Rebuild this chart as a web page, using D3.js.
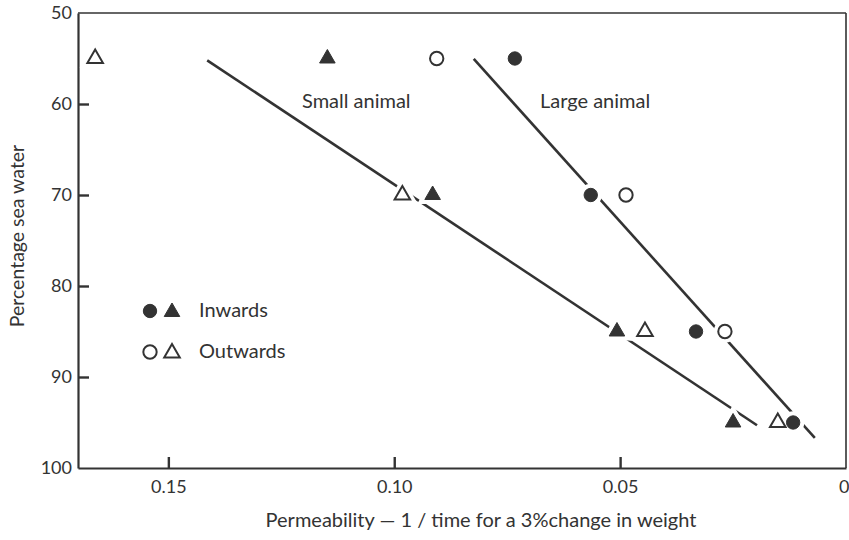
<!DOCTYPE html>
<html><head><meta charset="utf-8">
<script src="https://cdn.jsdelivr.net/npm/d3@7"></script>
<style>
body{margin:0;background:#fff;}
svg text{font-family:Lato,"Open Sans",sans-serif;fill:#333;}
</style></head>
<body><svg id="c" width="849" height="540"></svg>
<script>
// ---- data ----
const seaWater = [55, 70, 85, 95];
const largeInwards  = [0.0733, 0.0565, 0.0332, 0.0117];   // filled circles
const largeOutwards = [0.0906, 0.0487, 0.0268];           // open circles
const smallInwards  = [0.1148, 0.0915, 0.0507, 0.0250];   // filled triangles
const smallOutwards = [0.1662, 0.0982, 0.0445, 0.0151];   // open triangles
const smallFitX = [0.1414, 0.0197], smallFitY = [55.2, 95.3];
const largeFitX = [0.0824, 0.0069], largeFitY = [55.05, 96.7];
const xTicks = [0.15, 0.10, 0.05, 0];
const yTicks = [50, 60, 70, 80, 90, 100];
const legendItems = ["Inwards", "Outwards"];

const ink = "#333";
const svg = d3.select("#c");
const L = 78, R = 846, T = 13, B = 468;
const x = d3.scaleLinear().domain([0.17, 0]).range([L, R]);
const y = d3.scaleLinear().domain([50, 100]).range([T, B]);

// frame top/right
svg.append("line").attr("x1", L).attr("x2", R).attr("y1", T).attr("y2", T).attr("stroke", ink).attr("stroke-width", 1.6);
svg.append("line").attr("x1", R).attr("x2", R).attr("y1", T).attr("y2", B).attr("stroke", ink).attr("stroke-width", 1.6);

// axes
const ya = svg.append("g").attr("transform", `translate(${L},0)`)
  .call(d3.axisLeft(y).tickValues(yTicks).tickSizeInner(-11).tickSizeOuter(0).tickPadding(6));
const xa = svg.append("g").attr("transform", `translate(0,${B})`)
  .call(d3.axisBottom(x).tickValues(xTicks).tickSizeInner(-11).tickSizeOuter(0).tickPadding(12)
    .tickFormat(d => d === 0 ? "0" : d3.format(".2f")(d)));
[ya, xa].forEach(g => {
  g.select(".domain").attr("stroke", ink).attr("stroke-width", 2.2);
  g.selectAll(".tick line").attr("stroke", ink).attr("stroke-width", 2.4);
  g.selectAll(".tick text").style("font-size", "18px").attr("fill", ink);
});
ya.selectAll(".tick").filter(d => d === 50 || d === 100).select("line").remove();
const zeroTick = xa.selectAll(".tick").filter(d => d === 0);
zeroTick.select("line").remove();
zeroTick.select("text").attr("text-anchor", "end").attr("x", 3);

// fit lines
const line = d3.line().x(d => x(d[0])).y(d => y(d[1]));
[[smallFitX, smallFitY], [largeFitX, largeFitY]].forEach(([fx, fy]) => {
  svg.append("path").datum(fx.map((v, i) => [v, fy[i]])).attr("d", line)
    .attr("fill", "none").attr("stroke", ink).attr("stroke-width", 2.6);
});

// markers
const tri = d3.symbol().type(d3.symbolTriangle).size(105);
const circ = d3.symbol().type(d3.symbolCircle).size(140);
function halo(vals, gen) {
  const pts = vals.map((v, i) => [v, seaWater[i]]);
  svg.append("g").selectAll("path").data(pts).join("path")
    .attr("d", gen).attr("transform", d => `translate(${x(d[0])},${y(d[1])})`)
    .attr("fill", "#fff").attr("stroke", "#fff").attr("stroke-width", 9);
  return pts;
}
function draw(pts, gen, filled) {
  svg.append("g").selectAll("path").data(pts).join("path")
    .attr("d", gen).attr("transform", d => `translate(${x(d[0])},${y(d[1])})`)
    .attr("fill", filled ? ink : "#fff").attr("stroke", ink).attr("stroke-width", filled ? 1 : 2);
}
const sets = [[largeInwards, circ, true], [largeOutwards, circ, false], [smallInwards, tri, true], [smallOutwards, tri, false]];
const ptsAll = sets.map(s => halo(s[0], s[1]));
sets.forEach((s, i) => draw(ptsAll[i], s[1], s[2]));

// annotations
svg.append("text").attr("x", 302).attr("y", 108).style("font-size", "20px").text("Small animal");
svg.append("text").attr("x", 540).attr("y", 108).style("font-size", "20px").text("Large animal");

// legend
legendItems.forEach((t, i) => {
  const ly = 311 + i * 41;
  const filled = i === 0;
  svg.append("path").attr("d", circ()).attr("transform", `translate(150,${ly})`)
    .attr("fill", filled ? ink : "#fff").attr("stroke", ink).attr("stroke-width", filled ? 1 : 2);
  svg.append("path").attr("d", tri()).attr("transform", `translate(172,${ly + 1})`)
    .attr("fill", filled ? ink : "#fff").attr("stroke", ink).attr("stroke-width", filled ? 1 : 2);
  svg.append("text").attr("x", 199).attr("y", ly + 6).style("font-size", "20px").text(t);
});

// axis titles
svg.append("text").attr("transform", "translate(24,236) rotate(-90)").attr("text-anchor", "middle")
  .style("font-size", "19.5px").text("Percentage sea water");
svg.append("text").attr("x", 481).attr("y", 527).attr("text-anchor", "middle")
  .style("font-size", "20px").text("Permeability — 1 / time for a 3%change in weight");
</script></body></html>
